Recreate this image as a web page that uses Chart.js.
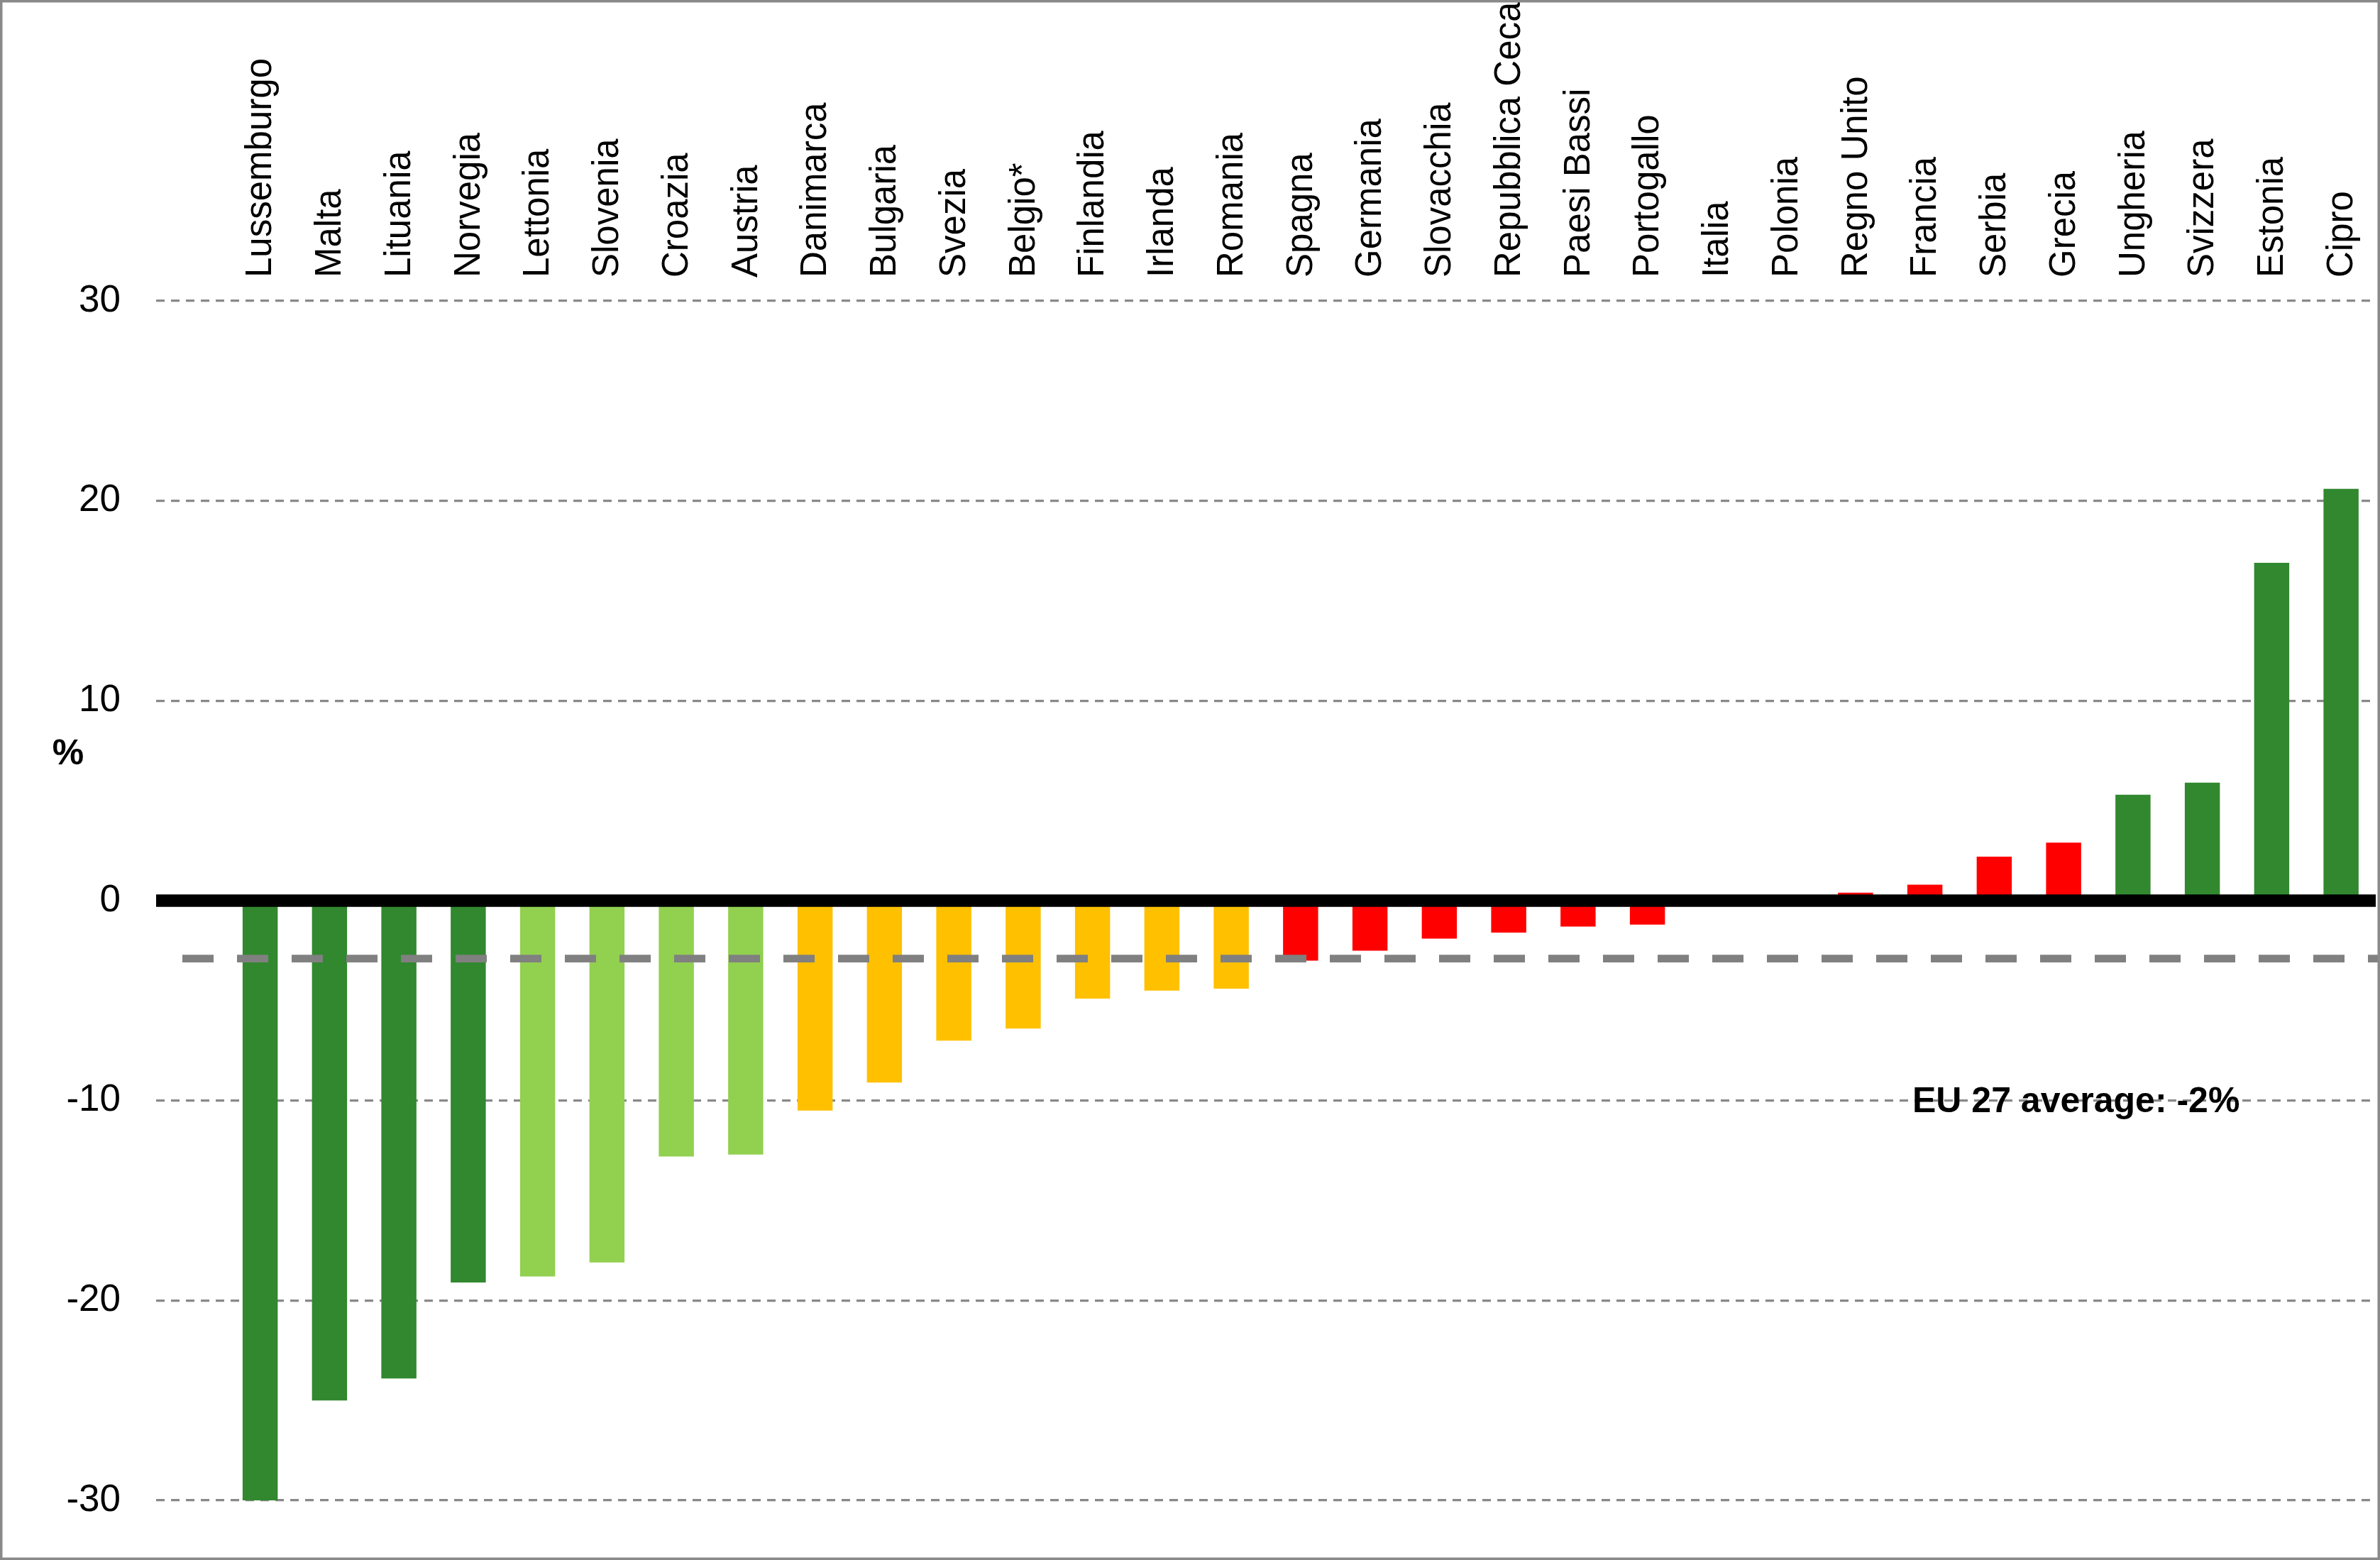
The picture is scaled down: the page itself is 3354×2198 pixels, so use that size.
<!DOCTYPE html>
<html>
<head>
<meta charset="utf-8">
<script src="https://cdn.jsdelivr.net/npm/chart.js@4.4.1/dist/chart.umd.min.js"></script>
<style>
    html, body { margin: 0; padding: 0; background: #ffffff; }
    canvas { display: block; }
</style>
</head>
<body>
<canvas id="chart" width="3354" height="2198"></canvas>
<script>
// Countries, left to right (the first slot of the axis is left empty, as in the original)
const countries = [
    "Lussemburgo", "Malta", "Lituania", "Norvegia", "Lettonia", "Slovenia", "Croazia", "Austria",
    "Danimarca", "Bulgaria", "Svezia", "Belgio*", "Finlandia", "Irlanda", "Romania", "Spagna",
    "Germania", "Slovacchia", "Repubblica Ceca", "Paesi Bassi", "Portogallo", "Italia", "Polonia",
    "Regno Unito", "Francia", "Serbia", "Grecia", "Ungheria", "Svizzera", "Estonia", "Cipro"
];

// Change in %
const changes = [
    -30.1, -25.0, -23.9, -19.1, -18.8, -18.1, -12.8, -12.7,
    -10.5, -9.1, -7.0, -6.4, -4.9, -4.5, -4.4, -3.0,
    -2.5, -1.9, -1.6, -1.3, -1.2, 0, 0,
    0.4, 0.8, 2.2, 2.9, 5.3, 5.9, 16.9, 20.6
];

// colour group of each bar
const groups = [
    "dark", "dark", "dark", "dark", "light", "light", "light", "light",
    "amber", "amber", "amber", "amber", "amber", "amber", "amber", "red",
    "red", "red", "red", "red", "red", "red", "red",
    "red", "red", "red", "red", "dark", "dark", "dark", "dark"
];

const yTicks = [-30, -20, -10, 0, 10, 20, 30];
const euAverage = -2.9;
const euAverageLabel = "EU 27 average: -2%";

const groupColors = {
    dark: "#31882f",
    light: "#92d050",
    amber: "#ffc000",
    red: "#ff0000"
};

const FONT = "'Liberation Sans', Arial, sans-serif";

// white page, zero axis, EU average line, texts and the outer frame
const extras = {
    id: "extras",
    beforeDraw(chart) {
        const ctx = chart.ctx;
        ctx.save();
        ctx.fillStyle = "#ffffff";
        ctx.fillRect(0, 0, chart.width, chart.height);
        ctx.restore();
    },
    afterDatasetsDraw(chart) {
        const ctx = chart.ctx;
        const area = chart.chartArea;
        const y = chart.scales.y;

        ctx.save();
        // EU average
        const ya = y.getPixelForValue(euAverage);
        ctx.strokeStyle = "#808080";
        ctx.lineWidth = 10.7;
        ctx.setLineDash([44, 33]);
        ctx.beginPath();
        ctx.moveTo(area.left + 37, ya);
        ctx.lineTo(chart.width - 3, ya);
        ctx.stroke();

        // zero line
        const y0 = y.getPixelForValue(0);
        ctx.setLineDash([]);
        ctx.strokeStyle = "#000000";
        ctx.lineWidth = 17.7;
        ctx.beginPath();
        ctx.moveTo(area.left, y0);
        ctx.lineTo(area.right, y0);
        ctx.stroke();

        // texts
        ctx.fillStyle = "#000000";
        ctx.font = "bold 50px " + FONT;
        ctx.textBaseline = "middle";
        ctx.textAlign = "center";
        ctx.fillText("%", 96, y.getPixelForValue(7.3));
        ctx.textAlign = "left";
        ctx.textBaseline = "alphabetic";
        ctx.fillText(euAverageLabel, 2695, 1567);

        // frame
        ctx.strokeStyle = "#898989";
        ctx.lineWidth = 3.5;
        ctx.strokeRect(1.75, 1.75, chart.width - 3.5, chart.height - 3.5);
        ctx.restore();
    }
};

new Chart(document.getElementById("chart").getContext("2d"), {
    type: "bar",
    data: {
        labels: [""].concat(countries),
        datasets: [{
            data: [null].concat(changes),
            backgroundColor: [null].concat(groups.map(g => groupColors[g])),
            borderWidth: 0,
            barPercentage: 0.506,
            categoryPercentage: 1.0
        }]
    },
    options: {
        responsive: false,
        animation: false,
        devicePixelRatio: 1,
        layout: { padding: { left: 0, right: 6, top: 0, bottom: 84 } },
        plugins: {
            legend: { display: false },
            tooltip: { enabled: false }
        },
        scales: {
            x: {
                position: "top",
                grid: { display: false, drawTicks: false },
                border: { display: false },
                ticks: {
                    color: "#000000",
                    font: { family: FONT, size: 51 },
                    minRotation: 90,
                    maxRotation: 90,
                    autoSkip: false,
                    padding: 33,
                    labelOffset: 63
                },
                afterFit(scale) { scale.height = 424; }
            },
            y: {
                min: -30,
                max: 30,
                afterBuildTicks(scale) { scale.ticks = yTicks.map(v => ({ value: v })); },
                grid: {
                    color: ctx => ctx.tick && ctx.tick.value === 0 ? "rgba(0,0,0,0)" : "#898989",
                    lineWidth: 3.3,
                    drawTicks: false
                },
                border: { display: false, dash: [12, 9] },
                ticks: {
                    color: "#000000",
                    font: { family: FONT, size: 53 },
                    padding: 50
                },
                afterFit(scale) { scale.width = 220; }
            }
        }
    },
    plugins: [extras]
});
</script>
</body>
</html>
